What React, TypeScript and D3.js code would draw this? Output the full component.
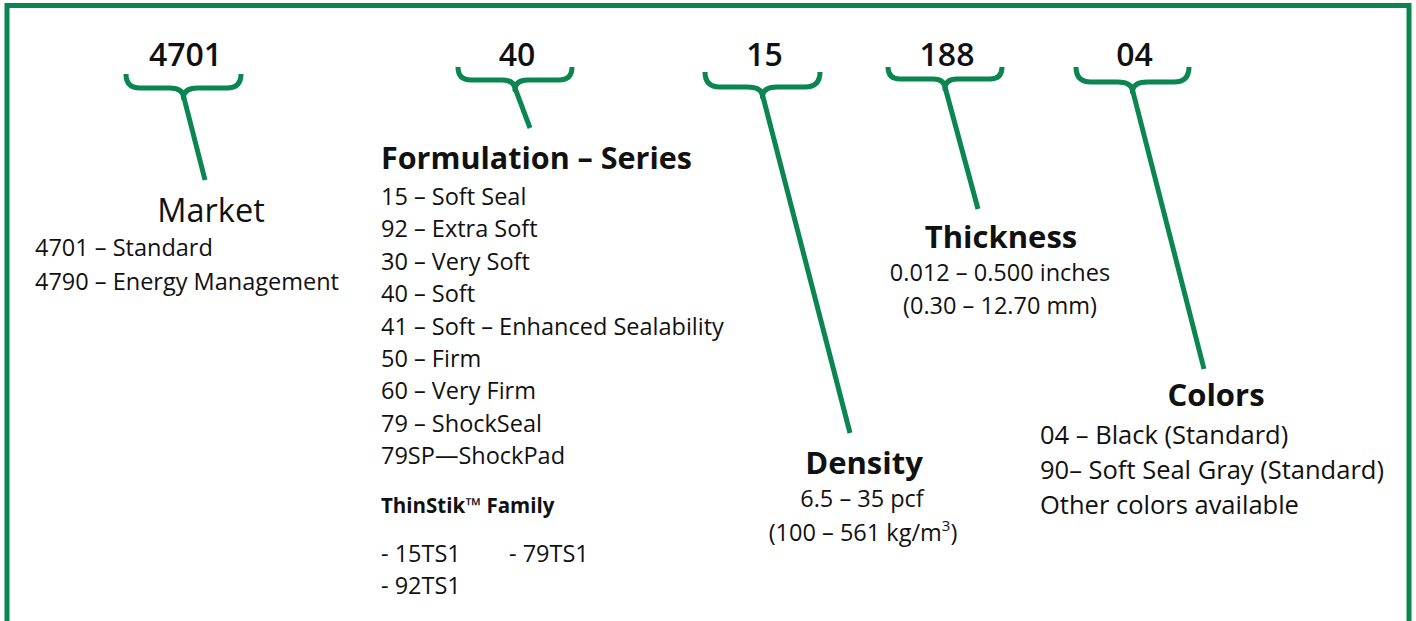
import React, { useEffect, useRef } from "react";
import * as d3 from "d3";

// part-number segments
const codes = ["4701", "40", "15", "188", "04"];

const marketItems = ["4701 – Standard", "4790 – Energy Management"];
const seriesItems = [
  "15 – Soft Seal",
  "92 – Extra Soft",
  "30 – Very Soft",
  "40 – Soft",
  "41 – Soft – Enhanced Sealability",
  "50 – Firm",
  "60 – Very Firm",
  "79 – ShockSeal",
  "79SP—ShockPad",
];
const thinStikItems = ["- 15TS1", "- 79TS1", "- 92TS1"];
const densityItems = ["6.5 – 35 pcf", "(100 – 561 kg/m", "3", ")"];
const thicknessItems = ["0.012 – 0.500 inches", "(0.30 – 12.70 mm)"];
const colorItems = ["04 – Black (Standard)", "90– Soft Seal Gray (Standard)", "Other colors available"];

const GREEN = "#0b8650";
const FONT = "'Open Sans', 'DejaVu Sans', sans-serif";
const BODY = 23.5;

// layout of each brace: left/right ends, top of ends, horizontal bar, stem end
const braces = [
  { x0: 126, x1: 241, top: 74, bar: 88, stem: [205, 180] },
  { x0: 458, x1: 572, top: 67, bar: 80, stem: [530, 128] },
  { x0: 705, x1: 820, top: 72, bar: 87, stem: [850, 433] },
  { x0: 888, x1: 1002, top: 67, bar: 79, stem: [978, 209] },
  { x0: 1076, x1: 1189, top: 67, bar: 82, stem: [1204, 369] },
];

function bracePath(b: { x0: number; x1: number; top: number; bar: number }) {
  const r = b.bar - b.top;
  const xc = (b.x0 + b.x1) / 2;
  const p = d3.path();
  p.moveTo(b.x0, b.top);
  p.quadraticCurveTo(b.x0, b.bar, b.x0 + r, b.bar);
  p.lineTo(xc - r, b.bar);
  p.quadraticCurveTo(xc, b.bar, xc, b.bar + 10);
  p.quadraticCurveTo(xc, b.bar, xc + r, b.bar);
  p.lineTo(b.x1 - r, b.bar);
  p.quadraticCurveTo(b.x1, b.bar, b.x1, b.top);
  return p.toString();
}

export default function App() {
  const ref = useRef<SVGSVGElement>(null);

  useEffect(() => {
    const svg = d3.select(ref.current);
    svg.selectAll("*").remove();

    // frame
    svg
      .append("rect")
      .attr("x", 7)
      .attr("y", 5.5)
      .attr("width", 1402)
      .attr("height", 640)
      .attr("fill", "none")
      .attr("stroke", GREEN)
      .attr("stroke-width", 5);

    // braces + stems
    const g = svg.selectAll(".brace").data(braces).join("g").attr("class", "brace");
    g.append("path")
      .attr("d", (d) => bracePath(d))
      .attr("fill", "none")
      .attr("stroke", GREEN)
      .attr("stroke-width", 5)
      .attr("stroke-linejoin", "round");
    g.append("line")
      .attr("x1", (d) => (d.x0 + d.x1) / 2)
      .attr("y1", (d) => d.bar + 8)
      .attr("x2", (d) => d.stem[0])
      .attr("y2", (d) => d.stem[1])
      .attr("stroke", GREEN)
      .attr("stroke-width", 5);
    g.append("text")
      .attr("x", (d) => (d.x0 + d.x1) / 2 + 2)
      .attr("y", 66)
      .attr("text-anchor", "middle")
      .attr("font-family", FONT)
      .attr("font-weight", 600)
      .attr("font-size", 32)
      .attr("fill", "#111")
      .text((d, i) => codes[i]);

    const txt = (x: number, y: number, s: string, size: number, anchor = "start", weight = 400) =>
      svg
        .append("text")
        .attr("x", x)
        .attr("y", y)
        .attr("text-anchor", anchor)
        .attr("font-family", FONT)
        .attr("font-size", size)
        .attr("font-weight", weight)
        .attr("fill", "#111")
        .text(s);

    // Market
    txt(211, 222, "Market", 32.5, "middle");
    marketItems.forEach((s, i) => txt(35, 256 + i * 34, s, BODY));

    // Formulation
    txt(381, 169, "Formulation – Series", 30.5, "start", 700);
    seriesItems.forEach((s, i) => txt(381, 205 + i * 32.4, s, BODY));
    txt(381, 513, "ThinStik™ Family", 20.5, "start", 700);
    txt(381, 562, thinStikItems[0], BODY);
    txt(509, 562, thinStikItems[1], BODY);
    txt(381, 594, thinStikItems[2], BODY);

    // Density
    txt(864, 474, "Density", 31, "middle", 700);
    txt(862, 507, densityItems[0], BODY, "middle");
    const dens = txt(863, 541, "", BODY, "middle");
    dens.append("tspan").text(densityItems[1]);
    dens.append("tspan").attr("dy", -10).attr("font-size", 15).text(densityItems[2]);
    dens.append("tspan").attr("dy", 10).text(densityItems[3]);

    // Thickness
    txt(1001, 248, "Thickness", 31, "middle", 700);
    thicknessItems.forEach((s, i) => txt(1000, 281 + i * 33, s, BODY, "middle"));

    // Colors
    txt(1216, 406, "Colors", 31, "middle", 700);
    colorItems.forEach((s, i) => txt(1040, 444 + i * 35, s, 25.5));
  }, []);

  return (
    <svg
      ref={ref}
      width={1416}
      height={621}
      style={{ position: "absolute", left: 0, top: 0, background: "#fff" }}
    />
  );
}
